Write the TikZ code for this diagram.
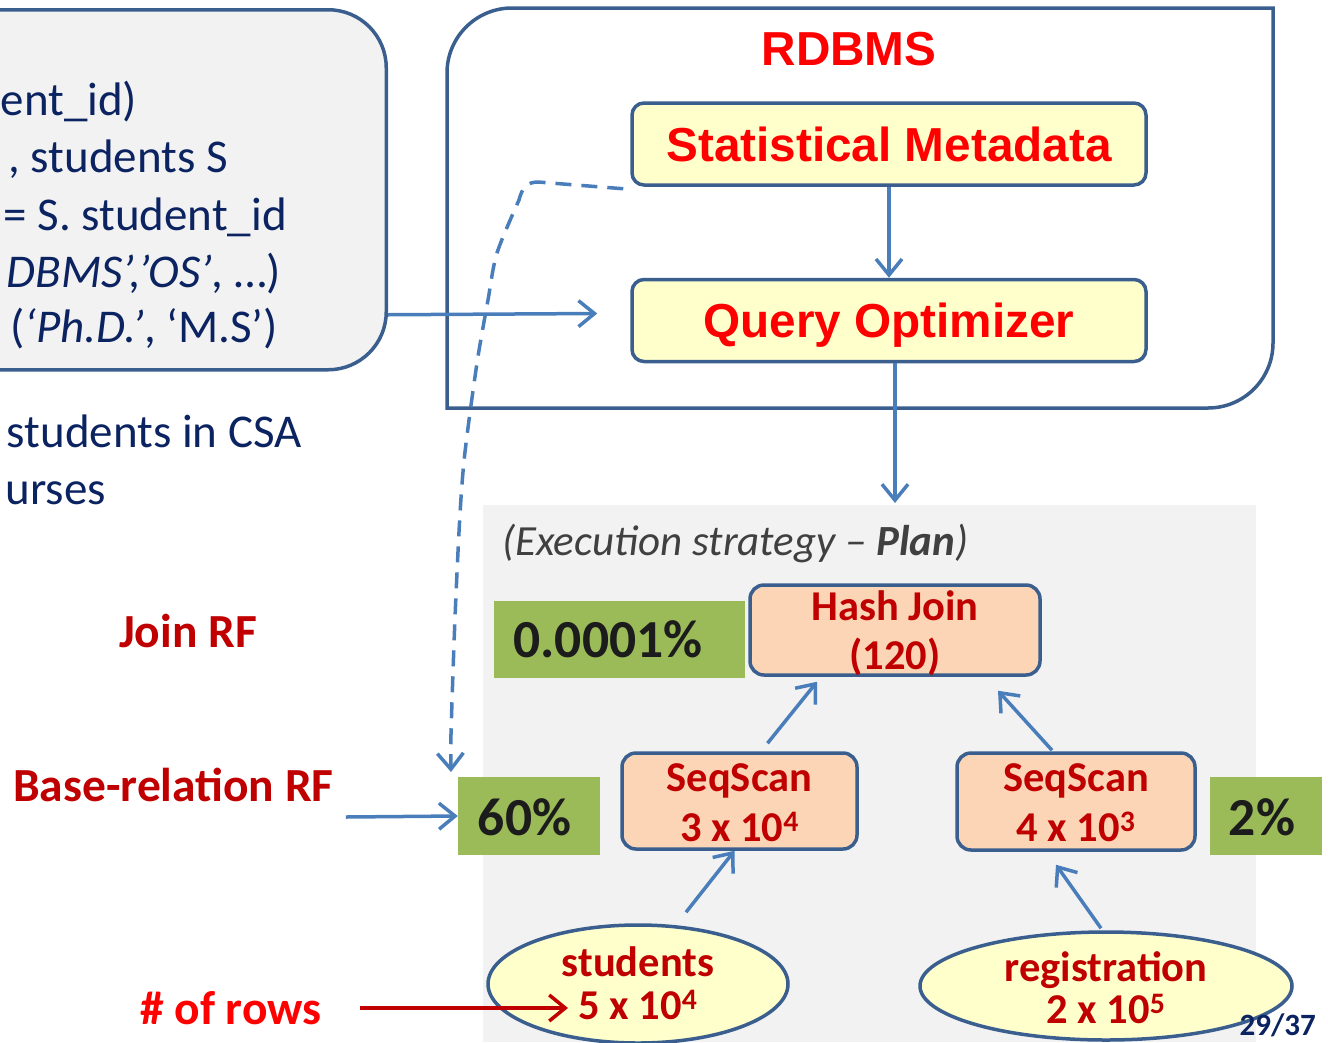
\documentclass[tikz,border=0pt]{standalone}
\usepackage{fontspec}
\setmainfont{Carlito}
\newfontfamily\arialfont{Liberation Sans}
\usetikzlibrary{arrows.meta,shapes.geometric}
\newcommand\fsz[2]{\fontsize{#1}{#2}\selectfont}
\definecolor{navy}{HTML}{0B2360}
\definecolor{boxblue}{HTML}{3A5F8F}
\definecolor{arrblue}{HTML}{4A7EBB}
\definecolor{paper}{HTML}{F2F2F2}
\definecolor{lyellow}{HTML}{FFFFCC}
\definecolor{peach}{HTML}{FBD5B5}
\definecolor{leaf}{HTML}{9BBB59}
\definecolor{dred}{HTML}{C00000}
\definecolor{bred}{HTML}{FF0000}
\definecolor{plangray}{HTML}{404040}
\definecolor{ink}{HTML}{1C1C1C}
\tikzset{
  outline/.style={draw=boxblue, line width=3.5pt},
  qtext/.style={inner sep=0pt, text=navy, font=\fsz{47pt}{56pt}},
  rflabel/.style={inner sep=0pt, text=dred, font=\fsz{47.5pt}{56pt}\bfseries},
  metabox/.style={outline, fill=lyellow, rounded corners=12pt, inner sep=0pt,
    minimum width=514pt, minimum height=82pt, text height=34pt, text depth=0pt,
    text=bred, font=\arialfont\fsz{47.7pt}{56pt}\bfseries},
  % text height/depth of a two-line node: top and bottom measured from the last baseline
  opnode/.style={outline, fill=peach, rounded corners=14pt, inner sep=0pt, align=center,
    text=dred, font=\fsz{42.5pt}{50pt}\bfseries, text height=80pt},
  relnode/.style={outline, fill=lyellow, ellipse, inner sep=0pt, align=center,
    text=dred, font=\fsz{42.5pt}{43pt}\bfseries},
  pct/.style={fill=leaf, inner sep=0pt},
  pcttext/.style={inner sep=0pt, text=ink, font=\fsz{53.5pt}{60pt}\bfseries},
  flow/.style={draw=arrblue, line width=3.5pt, -{Straight Barb[length=16pt,width=26pt]}},
}
\begin{document}
\begin{tikzpicture}[x=1pt,y=-1pt]
\useasboundingbox (0,0) rectangle (1328,1042);

% query panel on the left
\node[outline, fill=paper, rounded corners=58pt, inner sep=0pt,
  minimum width=450pt, minimum height=360pt, anchor=north east] (query) at (388,8) {};
\node[qtext, anchor=base west] (q1) at (0.5,115) {ent\_id)};
\node[qtext, anchor=base east] (q2) at (228,172) {, students S};
\node[qtext, anchor=base east] (q3) at (287,230) {= S. student\_id};
\node[qtext, anchor=base east] (q4) at (281,287) {\textit{DBMS’,’OS’}, …)};
\node[qtext, anchor=base east] (q5) at (278,342) {(\textit{‘Ph.D.’}, ‘M.S’)};

% description text and row-factor labels
\node[qtext, anchor=base east] (d1) at (302,447) {students in CSA};
\node[qtext, anchor=base east] (d2) at (106,504) {urses};
\node[rflabel, anchor=base east] (joinrf) at (257,647) {Join RF};
\node[rflabel, anchor=base west] (baserf) at (13,801) {Base-relation RF};
\node[rflabel, text=bred, anchor=base west] (rows) at (140,1024) {\# of rows};

% RDBMS container: rounded top-left and bottom-right corners
\draw[outline] (447,408) -- (447,73) arc[start angle=180, end angle=270, radius=65]
  -- (1273,8) -- (1273,343) arc[start angle=0, end angle=90, radius=65] -- cycle;
\node[inner sep=0pt, text=bred, font=\arialfont\fsz{47.7pt}{56pt}\bfseries, anchor=base]
  (rdbms) at (849,65) {RDBMS};
\node[metabox] (stat) at (889,144) {Statistical Metadata};
\node[metabox] (qo) at (889,320.5) {Query Optimizer};

% plan area
\node[fill=paper, inner sep=0pt, minimum width=773pt, minimum height=537pt, anchor=north west]
  (plan) at (483,505) {};
\node[inner sep=0pt, text=plangray, font=\fsz{43pt}{50pt}\itshape, anchor=base west]
  (plantitle) at (502,555) {(Execution strategy – \textbf{Plan})};

% selectivity boxes
\node[pct, minimum width=251pt, minimum height=77pt] (p1) at (619.5,639.5) {};
\node[pcttext, anchor=base] (p1t) at (608,657) {0.0001\%};
\node[pct, minimum width=142pt, minimum height=78pt] (p60) at (529,816) {};
\node[pcttext, anchor=base] (p60t) at (524.5,835) {60\%};
\node[pct, minimum width=112pt, minimum height=78pt] (p2) at (1266,816) {};
\node[pcttext, anchor=base] (p2t) at (1262,835) {2\%};

% plan operators
\node[opnode, font=\fsz{42.5pt}{49pt}\bfseries, text depth=1pt,
  minimum width=290pt, minimum height=90pt] (hj) at (895,630) {Hash Join\\(120)};
\node[opnode, text depth=0pt, minimum width=235pt, minimum height=96pt]
  (seql) at (739.5,801) {SeqScan\\3 x 10\textsuperscript{4}};
\node[opnode, text depth=1pt, minimum width=238pt, minimum height=97pt]
  (seqr) at (1076,801.5) {SeqScan\\4 x 10\textsuperscript{3}};
\node[relnode, text height=72pt, text depth=2pt, minimum width=300pt, minimum height=118pt]
  (stud) at (638,984) {students\\5 x 10\textsuperscript{4}};
\node[relnode, font=\fsz{42.5pt}{42pt}\bfseries, text height=75pt, text depth=1pt,
  minimum width=372pt, minimum height=108pt]
  (reg) at (1106,986) {registration\\2 x 10\textsuperscript{5}};

\node[inner sep=0pt, text=navy, font=\fsz{31pt}{36pt}\bfseries, anchor=base east]
  (page) at (1316,1035) {29/37};

% connectors
\coordinate (plantop) at (895,503);
\coordinate (dend) at (451,772);
\draw[flow] (stat.south) -- (qo.north);
\draw[flow] ([yshift=-125pt]query.east) -- ([xshift=-33pt,yshift=7pt]qo.west);
\draw[flow] ([xshift=6pt]qo.south) -- (plantop);
\draw[flow, dash pattern=on 16pt off 10pt] ([xshift=-7pt,yshift=-2pt]stat.south west)
  -- (538,182) .. controls (527,182) and (522,188) .. (519,200)
  -- plot[smooth] coordinates {(519,200) (497,253) (488,300) (477,363) (465,452) (460,514) (455,618) (451,734) (dend)};
\draw[flow] ([xshift=12pt,yshift=-16pt]baserf.base east) -- (p60.west);
\draw[draw=dred, line width=3.5pt, -{Straight Barb[length=16pt,width=26pt]}]
  ([xshift=38pt,yshift=16pt]rows.base east) -- ([xshift=-70pt,yshift=-24pt]stud.center);
\draw[flow] ([xshift=48pt,yshift=11pt]stud.north) -- ([xshift=-5pt]seql.south);
\draw[flow] ([xshift=28pt,yshift=8pt]seql.north) -- ([xshift=-78pt,yshift=-5pt]hj.south);
\draw[flow] ([xshift=-24pt,yshift=1pt]seqr.north) -- ([xshift=103pt,yshift=-14pt]hj.south);
\draw[flow] ([xshift=-5pt,yshift=2pt]reg.north) -- ([xshift=-20pt,yshift=-13pt]seqr.south);
\end{tikzpicture}
\end{document}
